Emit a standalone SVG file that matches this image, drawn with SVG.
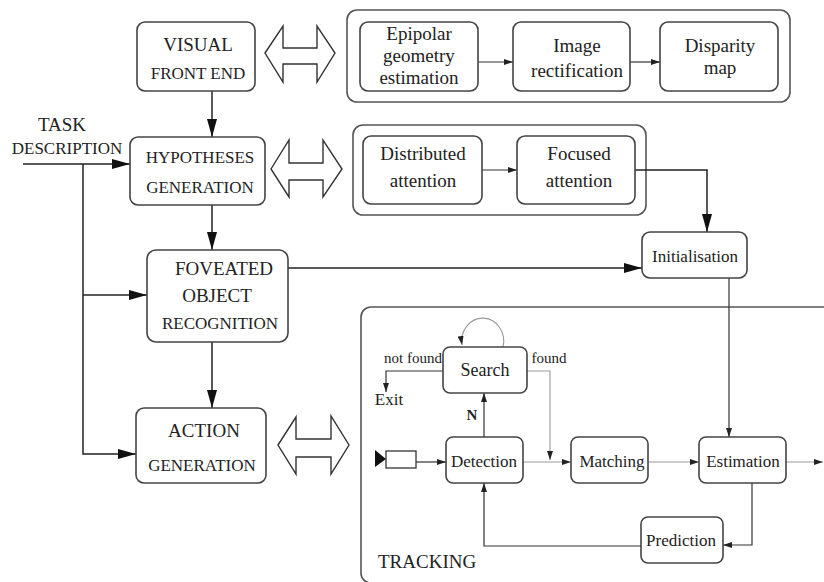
<svg xmlns="http://www.w3.org/2000/svg" width="824" height="582" viewBox="0 0 824 582">
<defs>
<style>
.box{fill:#fff;stroke:#444;stroke-width:1.6}
.cont{fill:none;stroke:#555;stroke-width:1.6}
.ln{fill:none;stroke:#222;stroke-width:1.5}
.tl{fill:none;stroke:#333;stroke-width:1.2}
.gl{fill:none;stroke:#999;stroke-width:1.1}
.dbl{fill:#fff;stroke:#333;stroke-width:1.4;stroke-linejoin:miter}
text{font-family:'Liberation Serif','DejaVu Serif',serif;fill:#222;text-anchor:middle}
.cap{font-size:17px}
.capb{font-size:19px}
.low{font-size:19px}
.tr{font-size:17px}
.sm{font-size:15px}
</style>
<marker id="big" markerUnits="userSpaceOnUse" markerWidth="18" markerHeight="10" refX="18" refY="5" orient="auto"><path d="M0,0 L18,5 L0,10 z" fill="#111"/></marker>
<marker id="sm" markerUnits="userSpaceOnUse" markerWidth="9" markerHeight="6" refX="9" refY="3" orient="auto"><path d="M0,0 L9,3 L0,6 z" fill="#222"/></marker>
</defs>
<rect width="824" height="582" fill="#fff"/>

<g id="stereo-panel">
<rect class="cont" x="347" y="10" width="443" height="92" rx="10"/>
</g>
<g id="attention-panel">
<rect class="cont" x="353" y="125" width="293" height="90" rx="10"/>
</g>
<g id="tracking-panel">
<rect class="cont" x="361" y="307" width="500" height="276" rx="10"/>
<text class="capb" x="378" y="568" style="text-anchor:start">TRACKING</text>
</g>

<g id="connectors">
<line class="ln" x1="212" y1="91" x2="212" y2="137" marker-end="url(#big)"/>
<line class="ln" x1="23" y1="164" x2="130" y2="164" marker-end="url(#big)"/>
<polyline class="ln" points="83,164 83,454 136,454" marker-end="url(#big)"/>
<line class="ln" x1="83" y1="295" x2="147" y2="295" marker-end="url(#big)"/>
<line class="ln" x1="212" y1="205" x2="212" y2="250" marker-end="url(#big)"/>
<line class="ln" x1="212" y1="342" x2="212" y2="408" marker-end="url(#big)"/>
<line class="ln" x1="288" y1="268" x2="642" y2="268" marker-end="url(#big)"/>
<polyline class="ln" points="635,170 707,170 707,232" marker-end="url(#big)"/>
<line class="tl" x1="478" y1="62" x2="513" y2="62" marker-end="url(#sm)"/>
<line class="tl" x1="630" y1="62" x2="660" y2="62" marker-end="url(#sm)"/>
<line class="tl" x1="482" y1="170" x2="517" y2="170" marker-end="url(#sm)"/>
<line class="tl" x1="729" y1="278" x2="729" y2="437" marker-end="url(#sm)"/>
<path class="gl" d="M503,347 A21,23 0 1 0 462,345" marker-end="url(#sm)"/>
<polyline class="tl" points="443,371 386,371 386,392" marker-end="url(#sm)"/>
<polyline class="gl" points="527,371 550,371 550,460" marker-end="url(#sm)"/>
<line class="tl" x1="484" y1="437" x2="484" y2="393" marker-end="url(#sm)"/>
<line class="tl" x1="416" y1="462" x2="446" y2="462" marker-end="url(#sm)"/>
<line class="gl" x1="523" y1="462" x2="571" y2="462" marker-end="url(#sm)"/>
<line class="gl" x1="648" y1="462" x2="699" y2="462" marker-end="url(#sm)"/>
<line class="gl" x1="786" y1="462" x2="823" y2="462" marker-end="url(#sm)"/>
<polyline class="tl" points="752,483 752,545 723,545" marker-end="url(#sm)"/>
<polyline class="tl" points="641,546 484,546 484,483" marker-end="url(#sm)"/>
</g>

<g id="dbl-arrow-1"><polygon class="dbl" points="265,53 283,26 283,48 317,48 317,26 335,53 317,82 317,64 283,64 283,82"/></g>
<g id="dbl-arrow-2"><polygon class="dbl" points="271,169 289,140 289,163 323,163 323,140 342,169 323,197 323,180 289,180 289,197"/></g>
<g id="dbl-arrow-3"><polygon class="dbl" points="278,445 296,417 296,439 331,439 331,416 349,445 331,474 331,457 296,457 296,474"/></g>

<g id="visual-front-end">
<rect class="box" x="137" y="22" width="118" height="69" rx="8"/>
<text class="capb" x="198" y="51">VISUAL</text>
<text class="cap" x="198" y="79">FRONT END</text>
</g>
<g id="task-description">
<text class="capb" x="62" y="131">TASK</text>
<text class="cap" x="67" y="154">DESCRIPTION</text>
</g>
<g id="hypotheses-generation">
<rect class="box" x="130" y="137" width="135" height="68" rx="8"/>
<text class="cap" x="200" y="163">HYPOTHESES</text>
<text class="cap" x="200" y="193">GENERATION</text>
</g>
<g id="foveated-object-recognition">
<rect class="box" x="147" y="250" width="141" height="92" rx="9"/>
<text class="capb" x="224" y="275">FOVEATED</text>
<text class="capb" x="217" y="302">OBJECT</text>
<text class="cap" x="220" y="329">RECOGNITION</text>
</g>
<g id="action-generation">
<rect class="box" x="136" y="408" width="130" height="75" rx="8"/>
<text class="capb" x="204" y="437">ACTION</text>
<text class="cap" x="202" y="471">GENERATION</text>
</g>

<g id="epipolar">
<rect class="box" x="360" y="22" width="118" height="69" rx="8"/>
<text class="low" x="419" y="40">Epipolar</text>
<text class="low" x="419" y="62">geometry</text>
<text class="low" x="419" y="84">estimation</text>
</g>
<g id="image-rectification">
<rect class="box" x="513" y="22" width="117" height="69" rx="8"/>
<text class="low" x="577" y="52">Image</text>
<text class="low" x="577" y="77">rectification</text>
</g>
<g id="disparity-map">
<rect class="box" x="660" y="22" width="118" height="69" rx="8"/>
<text class="low" x="720" y="52">Disparity</text>
<text class="low" x="720" y="74">map</text>
</g>

<g id="distributed-attention">
<rect class="box" x="363" y="136" width="119" height="68" rx="8"/>
<text class="low" x="423" y="160">Distributed</text>
<text class="low" x="423" y="187">attention</text>
</g>
<g id="focused-attention">
<rect class="box" x="517" y="136" width="118" height="68" rx="8"/>
<text class="low" x="579" y="160">Focused</text>
<text class="low" x="579" y="187">attention</text>
</g>

<g id="initialisation">
<rect class="box" x="642" y="232" width="105" height="46" rx="8"/>
<text class="tr" x="695" y="262">Initialisation</text>
</g>

<g id="search">
<rect class="box" x="443" y="347" width="84" height="46" rx="7"/>
<text class="tr" style="font-size:18px" x="485" y="376">Search</text>
<text class="sm" x="413" y="363">not found</text>
<text class="sm" x="549" y="363">found</text>
<text class="tr" x="389" y="405">Exit</text>
<text class="sm" x="472" y="420" style="font-weight:bold">N</text>
</g>
<g id="input">
<path d="M375,450 L386,459 L375,467 z" fill="#111"/>
<rect x="386" y="451" width="30" height="17" fill="#fff" stroke="#333" stroke-width="1.3"/>
</g>
<g id="detection">
<rect class="box" x="446" y="437" width="77" height="46" rx="7"/>
<text class="tr" x="484" y="467">Detection</text>
</g>
<g id="matching">
<rect class="box" x="571" y="437" width="77" height="46" rx="7"/>
<text class="tr" x="612" y="467">Matching</text>
</g>
<g id="estimation">
<rect class="box" x="699" y="437" width="87" height="46" rx="7"/>
<text class="tr" x="743" y="467">Estimation</text>
</g>
<g id="prediction">
<rect class="box" x="641" y="517" width="82" height="46" rx="7"/>
<text class="tr" x="681" y="546">Prediction</text>
</g>
</svg>
